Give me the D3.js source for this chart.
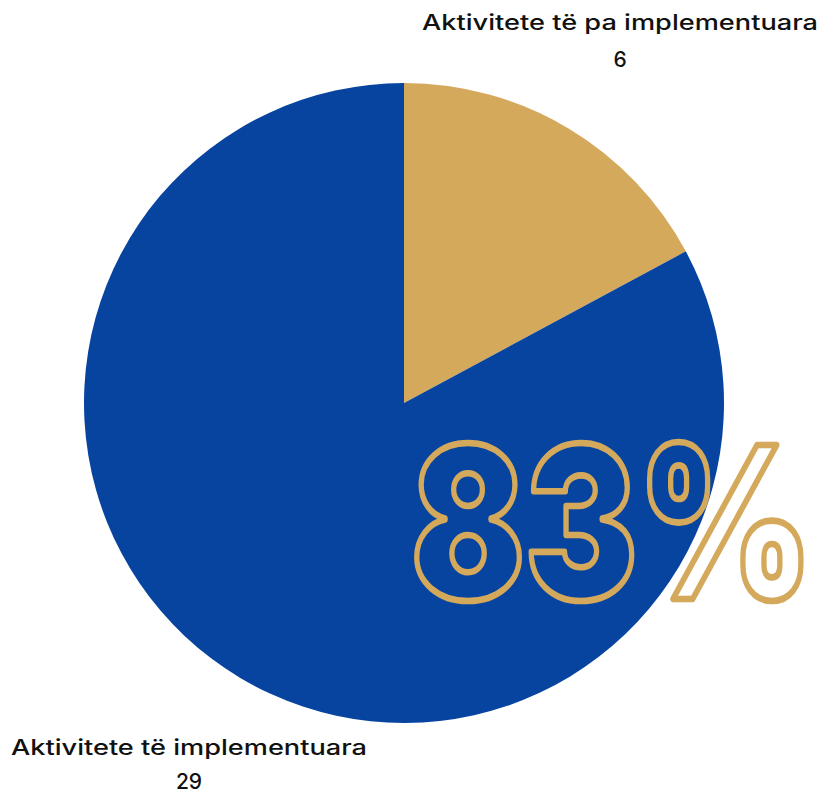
<!DOCTYPE html>
<html><head><meta charset="utf-8">
<script src="https://cdn.jsdelivr.net/npm/d3@7"></script>
<style>html,body{margin:0;padding:0;background:#fff;}</style>
</head><body>
<svg id="c" width="822" height="794"></svg>
<script>
const categories = ["Aktivitete të pa implementuara", "Aktivitete të implementuara"];
const values = [6, 29];
const colors = ["#D4A95B", "#0644A0"];

const svg = d3.select("#c");
const cx = 404, cy = 403, r = 320;
const pie = d3.pie().sort(null).value(d => d)(values);
const arc = d3.arc().innerRadius(0).outerRadius(r);
const g = svg.append("g").attr("transform", `translate(${cx},${cy})`);
g.selectAll("path").data(pie).join("path")
  .attr("d", arc).attr("fill", (d,i) => colors[i]);

const font = "Inter, 'Noto Sans', sans-serif";
const labels = [
  {x: 620, y1: 30, y2: 67, i: 0},
  {x: 189, y1: 755, y2: 789, i: 1}
];
labels.forEach(l => {
  svg.append("text").attr("x", l.x).attr("y", l.y1).attr("text-anchor","middle")
    .attr("font-family", font).attr("font-size", 21).attr("font-weight", 500)
    .attr("fill", "#111").attr("textLength", l.i===0?396:356).attr("lengthAdjust","spacingAndGlyphs")
    .text(categories[l.i]);
  svg.append("text").attr("x", l.x).attr("y", l.y2).attr("text-anchor","middle")
    .attr("font-family", font).attr("font-size", 21).attr("font-weight", 500)
    .attr("fill", "#111").text(values[l.i]);
});

const total = d3.sum(values);
const big = svg.append("text").attr("x", 0).attr("y", 0)
  .attr("font-family", font).attr("font-size", 212).attr("font-weight", 900)
  .attr("fill", "none").attr("stroke", colors[0]).attr("stroke-width", 6)
  .attr("stroke-linejoin", "round").attr("vector-effect", "non-scaling-stroke")
  .text(Math.round(values[1]/total*100) + "%");
const w = big.node().getComputedTextLength();
const f = 212 * 402 / w;
big.attr("font-size", f)
  .attr("transform", `translate(411,599) scale(1,${212 / f})`);
</script>
</body></html>
